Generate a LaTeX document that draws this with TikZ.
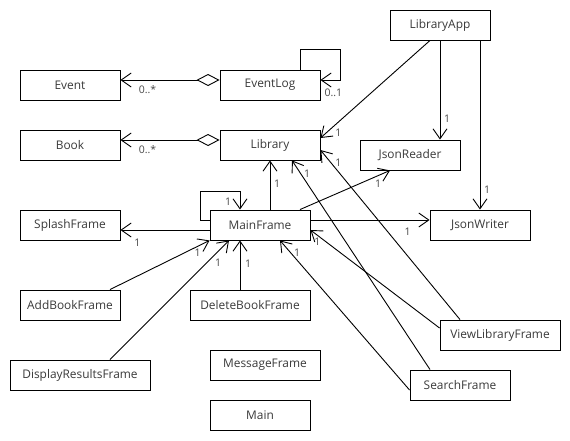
\documentclass[tikz,border=0pt]{standalone}
\usepackage{fontspec}
\setmainfont{Open Sans}
\usetikzlibrary{arrows.meta}
\definecolor{txt}{HTML}{3A3A3A}
\definecolor{lbl}{HTML}{484848}
\begin{document}
\begin{tikzpicture}[x=1pt,y=-1pt,
  cls/.style={draw=black, line width=0.9pt, fill=white, minimum width=100pt,
    minimum height=30pt, inner sep=0pt, text=txt,
    font=\fontsize{11.9}{13}\selectfont},
  assoc/.style={draw=black, line width=0.9pt,
    -{Straight Barb[length=10pt,width=14pt]}},
  aggr/.style={draw=black, line width=0.9pt,
    {Diamond[open,length=23pt,width=12pt]}-{Straight Barb[length=10pt,width=14pt]}},
  mult/.style={pos=1, inner sep=0pt, text=lbl, font=\fontsize{10.5}{12}\selectfont}
]
\fill[white] (0,0) rectangle (570,440);
\useasboundingbox (0,0) rectangle (570,440);

% classes
\node[cls] (app)      at (440,25)  {LibraryApp};
\node[cls] (event)    at (70,85)   {Event};
\node[cls] (eventlog) at (270,85)  {EventLog};
\node[cls] (book)     at (70,145)  {Book};
\node[cls] (library)  at (270,145) {Library};
\node[cls] (reader)   at (410,155) {JsonReader};
\node[cls] (splash)   at (70,225)  {SplashFrame};
\node[cls] (mainf)    at (260,225) {MainFrame};
\node[cls] (writer)   at (480,225) {JsonWriter};
\node[cls] (add)      at (70,305)  {AddBookFrame};
\node[cls, minimum width=120pt] (delete)  at (250,305) {DeleteBookFrame};
\node[cls, minimum width=120pt] (view)    at (500,335) {ViewLibraryFrame};
\node[cls, minimum width=140pt] (display) at (80,375)  {DisplayResultsFrame};
\node[cls, minimum width=110pt] (message) at (265,365) {MessageFrame};
\node[cls] (search)   at (460,385) {SearchFrame};
\node[cls] (mainc)    at (260,415) {Main};

% aggregations
\draw[aggr] ([yshift=5pt]eventlog.west) -- ([yshift=5pt]event.east)
  node[mult, xshift=27pt, yshift=-10pt] {0..*};
\draw[aggr] ([yshift=5pt]library.west) -- ([yshift=5pt]book.east)
  node[mult, xshift=27pt, yshift=-10pt] {0..*};

% self associations
\draw[assoc] ([xshift=30pt]eventlog.north) -- ++(0,-20) -- ++(40,0)
  |- ([yshift=5pt]eventlog.east)
  node[mult, xshift=13pt, yshift=-13pt] {0..1};
\draw[assoc] ([yshift=5pt]mainf.west) -- ++(-9,0) -- ++(0,-29)
  -| ([xshift=-20pt]mainf.north)
  node[mult, xshift=-12pt, yshift=8pt] {1};

% LibraryApp
\draw[assoc] ([xshift=-10pt]app.south) -- ([yshift=7pt]library.east)
  node[mult, xshift=18pt, yshift=5pt] {1};
\draw[assoc] (app.south) -- (app.south |- reader.north)
  node[mult, xshift=7pt, yshift=21pt] {1};
\draw[assoc] ([xshift=40pt]app.south) -- (writer.north)
  node[mult, xshift=7pt, yshift=20pt] {1};

% MainFrame
\draw[assoc] ([xshift=10pt]mainf.north) -- (library.south)
  node[mult, xshift=7pt, yshift=-23pt] {1};
\draw[assoc] ([xshift=40pt]mainf.north) -- ([xshift=-20pt]reader.south)
  node[mult, xshift=-12pt, yshift=-13pt] {1};
\draw[assoc] ([yshift=5pt]mainf.east) -- ([yshift=5pt]writer.west)
  node[mult, xshift=-22pt, yshift=-12pt] {1};
\draw[assoc] ([yshift=-5pt]mainf.west) -- ([yshift=-5pt]splash.east)
  node[mult, xshift=17pt, yshift=-13pt] {1};

% frames pointing to MainFrame
\draw[assoc] ([xshift=40pt]add.north) -- (mainf.south west)
  node[mult, xshift=-12pt, yshift=-12pt] {1};
\draw[assoc] ([xshift=30pt]display.north) -- ([xshift=-31pt]mainf.south)
  node[mult, xshift=-11pt, yshift=-22pt] {1};
\draw[assoc] ([xshift=-10pt]delete.north) -- ([xshift=-20pt]mainf.south)
  node[mult, xshift=8pt, yshift=-23pt] {1};
\draw[assoc] ([yshift=-5pt]search.west) -- ([xshift=20pt]mainf.south)
  node[mult, xshift=17pt, yshift=-12pt] {1};
\draw[assoc] ([yshift=7pt]view.west) -- ([yshift=-5pt]mainf.east)
  node[mult, xshift=7pt, yshift=-12pt] {1};

% frames pointing to Library
\draw[assoc] ([xshift=-40pt]view.north) -- ([yshift=-5pt]library.east)
  node[mult, xshift=18pt, yshift=-13pt] {1};
\draw[assoc] ([xshift=-30pt]search.north) -- ([xshift=22pt]library.south)
  node[mult, xshift=15pt, yshift=-13pt] {1};
\end{tikzpicture}
\end{document}
